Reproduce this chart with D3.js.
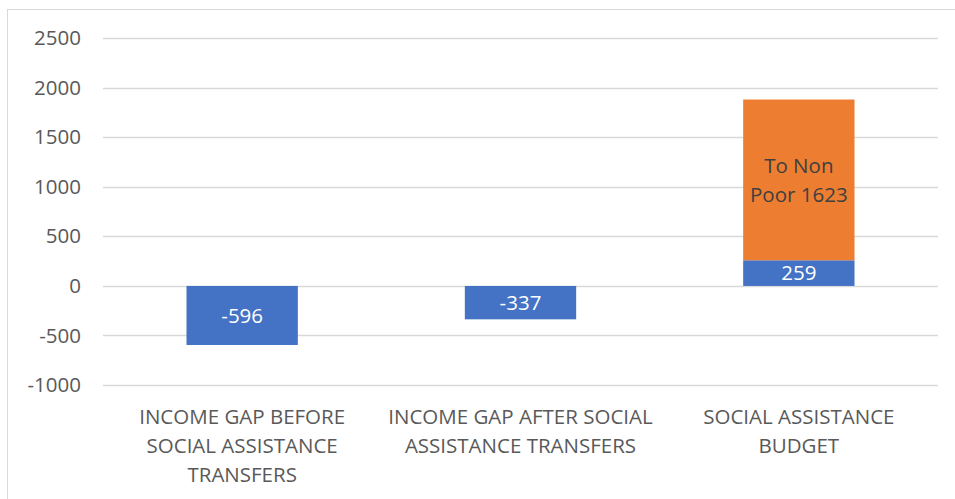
<!DOCTYPE html>
<html>
<head>
<meta charset="utf-8">
<script src="https://cdn.jsdelivr.net/npm/d3@7"></script>
<style>
  body { margin: 0; background: #fff; }
  svg { font-family: "Open Sans", "Noto Sans", sans-serif; }
</style>
</head>
<body>
<svg id="chart" width="955" height="499"></svg>
<script>
// chart data
var categories = [
  ["INCOME GAP BEFORE", "SOCIAL ASSISTANCE", "TRANSFERS"],
  ["INCOME GAP AFTER SOCIAL", "ASSISTANCE TRANSFERS"],
  ["SOCIAL ASSISTANCE", "BUDGET"]
];
var toPoor = [-596, -337, 259];
var toNonPoor = [0, 0, 1623];
var nonPoorLabel = ["To Non", "Poor 1623"];
var yTicks = [-1000, -500, 0, 500, 1000, 1500, 2000, 2500];

var svg = d3.select('#chart');
var fs = '20.5px';

// outer frame
svg.append('rect')
  .attr('x', 7.5).attr('y', 9.5)
  .attr('width', 960).attr('height', 500)
  .attr('fill', 'none')
  .attr('stroke', '#d9d9d9');

var x = d3.scaleBand()
  .domain(d3.range(categories.length))
  .range([103, 938])
  .paddingInner(0.6)
  .paddingOuter(0.3);

var y = d3.scaleLinear()
  .domain([-1000, 2500])
  .range([385, 38.3]);

// gridlines
svg.append('g')
  .selectAll('line')
  .data(yTicks)
  .enter().append('line')
  .attr('x1', 103).attr('x2', 938)
  .attr('y1', function (d) { return Math.round(y(d)) + 0.5; })
  .attr('y2', function (d) { return Math.round(y(d)) + 0.5; })
  .attr('stroke', '#d9d9d9')
  .attr('stroke-width', 1.3);

// y axis labels
var yAxis = d3.axisLeft(y).tickValues(yTicks).tickSize(0).tickPadding(0)
  .tickFormat(function (d) { return String(d); });
var ya = svg.append('g').attr('transform', 'translate(81,0)').call(yAxis);
ya.select('.domain').remove();
ya.selectAll('text')
  .attr('fill', '#595959')
  .style('font-size', fs)
  .style('font-family', '"Open Sans", sans-serif');

// blue bars
svg.append('g')
  .selectAll('rect')
  .data(toPoor)
  .enter().append('rect')
  .attr('x', function (d, i) { return x(i); })
  .attr('width', x.bandwidth())
  .attr('y', function (d) { return y(Math.max(0, d)); })
  .attr('height', function (d) { return Math.abs(y(d) - y(0)); })
  .attr('fill', '#4472c4');

// orange stacked bar
svg.append('g')
  .selectAll('rect')
  .data(toNonPoor)
  .enter().filter(function (d) { return d > 0; })
  .append('rect')
  .attr('x', x(2))
  .attr('width', x.bandwidth())
  .attr('y', function (d) { return y(toPoor[2] + d); })
  .attr('height', function (d) { return y(0) - y(d); })
  .attr('fill', '#ed7d31');

// data labels
svg.append('g')
  .selectAll('text')
  .data(toPoor)
  .enter().append('text')
  .attr('x', function (d, i) { return x(i) + x.bandwidth() / 2; })
  .attr('y', function (d) { return (y(d) + y(0)) / 2; })
  .attr('dy', '0.36em')
  .attr('text-anchor', 'middle')
  .attr('fill', '#fff')
  .style('font-size', fs)
  .text(function (d) { return d; });

var midOrange = (y(toPoor[2]) + y(toPoor[2] + toNonPoor[2])) / 2;
svg.append('g')
  .selectAll('text')
  .data(nonPoorLabel)
  .enter().append('text')
  .attr('x', x(2) + x.bandwidth() / 2)
  .attr('y', function (d, i) { return midOrange + (i - 0.5) * 29; })
  .attr('dy', '0.36em')
  .attr('text-anchor', 'middle')
  .attr('fill', '#404040')
  .style('font-size', fs)
  .text(function (d) { return d; });

// category labels
var cat = svg.append('g')
  .selectAll('text')
  .data(categories)
  .enter().append('text')
  .attr('text-anchor', 'middle')
  .attr('fill', '#595959')
  .style('font-size', fs);
cat.selectAll('tspan')
  .data(function (d, i) { return d.map(function (s) { return { s: s, i: i }; }); })
  .enter().append('tspan')
  .attr('x', function (d) { return x(d.i) + x.bandwidth() / 2; })
  .attr('y', function (d, j) { return 424 + j * 29; })
  .text(function (d) { return d.s; });
</script>
</body>
</html>
